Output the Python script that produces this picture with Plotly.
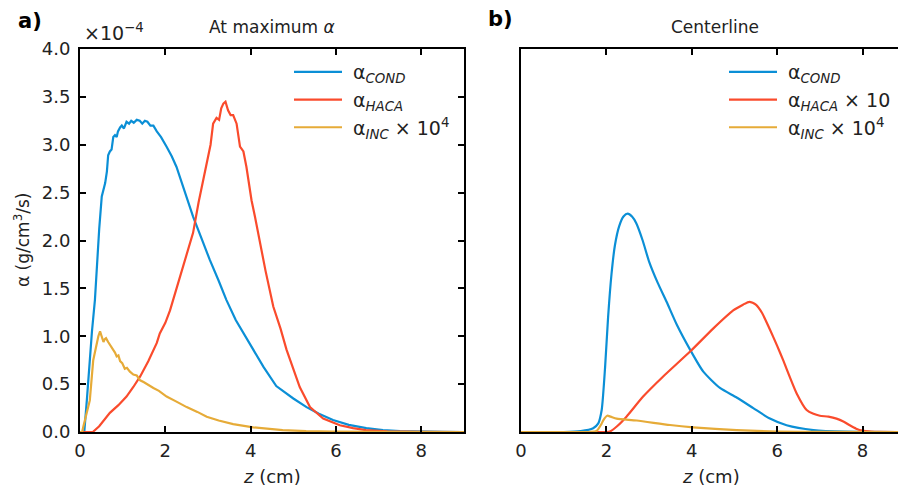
import plotly.graph_objects as go

# --- Panel a: profiles at the radial location of maximum alpha (units of 1e-4 g/cm^3/s)
z_cond_max = [0.0, 0.1, 0.16, 0.22, 0.28, 0.35, 0.39, 0.45, 0.51, 0.55, 0.59, 0.63, 0.66, 0.70,
              0.74, 0.78, 0.82, 0.86, 0.89, 0.94, 0.98, 1.03, 1.09, 1.15, 1.2, 1.26, 1.33, 1.4,
              1.46, 1.52, 1.58, 1.65, 1.72, 1.8, 1.9, 2.03, 2.15, 2.26, 2.45, 2.65, 2.85, 3.04,
              3.25, 3.43, 3.65, 3.98, 4.3, 4.6, 5.0, 5.31, 5.6, 5.93, 6.3, 6.71, 7.1, 7.5, 8.0,
              8.5, 9.0]
cond_max = [0, 0.0, 0.33, 0.75, 1.05, 1.38, 1.73, 2.12, 2.46, 2.52, 2.6, 2.72, 2.89, 2.93, 2.95,
            3.08, 3.1, 3.08, 3.14, 3.18, 3.2, 3.17, 3.24, 3.22, 3.25, 3.23, 3.26, 3.25, 3.22,
            3.25, 3.24, 3.2, 3.2, 3.14, 3.08, 2.98, 2.88, 2.77, 2.52, 2.25, 2.02, 1.80, 1.58,
            1.38, 1.17, 0.92, 0.68, 0.48, 0.35, 0.26, 0.19, 0.125, 0.075, 0.04, 0.02, 0.01,
            0.004, 0.001, 0.0]

z_haca_max = [0, 0.3, 0.45, 0.7, 0.9, 1.09, 1.25, 1.41, 1.6, 1.8, 1.87, 2.0, 2.11, 2.3, 2.5,
              2.65, 2.78, 2.89, 3.0, 3.06, 3.12, 3.2, 3.26, 3.31, 3.36, 3.41, 3.47, 3.53, 3.59,
              3.63, 3.67, 3.75, 3.83, 3.9, 4.02, 4.1, 4.22, 4.35, 4.53, 4.7, 4.84, 5.0, 5.15,
              5.39, 5.7, 6.09, 6.4, 6.7, 7.2, 8.0, 9.0]
haca_max = [0, 0, 0.06, 0.2, 0.28, 0.37, 0.47, 0.58, 0.74, 0.93, 1.03, 1.14, 1.27, 1.55, 1.87,
            2.08, 2.4, 2.63, 2.84, 3.0, 3.22, 3.28, 3.26, 3.38, 3.43, 3.45, 3.36, 3.31, 3.31,
            3.27, 3.22, 2.98, 2.93, 2.77, 2.42, 2.25, 1.97, 1.68, 1.31, 1.08, 0.86, 0.66, 0.47,
            0.26, 0.14, 0.07, 0.04, 0.02, 0.008, 0.002, 0]

z_inc_max = [0, 0.05, 0.08, 0.15, 0.23, 0.31, 0.39, 0.43, 0.47, 0.51, 0.55, 0.58, 0.61, 0.66,
             0.72, 0.78, 0.82, 0.86, 0.9, 0.94, 0.99, 1.05, 1.1, 1.17, 1.25, 1.33, 1.41, 1.5,
             1.6, 1.72, 1.85, 2.03, 2.25, 2.5, 2.75, 2.97, 3.25, 3.59, 4.06, 4.75, 5.3, 5.9,
             7.0, 9.0]
inc_max = [0, 0, 0.06, 0.18, 0.33, 0.75, 0.93, 1.0, 1.05, 1.0, 0.94, 0.97, 0.98, 0.94, 0.90,
           0.86, 0.83, 0.79, 0.80, 0.74, 0.72, 0.66, 0.67, 0.63, 0.60, 0.59, 0.54, 0.52, 0.49,
           0.46, 0.43, 0.37, 0.32, 0.26, 0.21, 0.16, 0.12, 0.083, 0.049, 0.02, 0.009, 0.003,
           0.001, 0]

# --- Panel b: profiles along the centerline (same units)
z_cond_cl = [0, 1.0, 1.4, 1.69, 1.81, 1.89, 1.97, 2.04, 2.12, 2.2, 2.3, 2.4, 2.5, 2.6, 2.7,
             2.85, 3.0, 3.2, 3.41, 3.65, 3.96, 4.27, 4.66, 5.05, 5.44, 5.83, 6.22, 6.85, 7.6,
             8.83]
cond_cl = [0, 0, 0.01, 0.04, 0.09, 0.23, 0.68, 1.2, 1.65, 1.95, 2.15, 2.25, 2.28, 2.25, 2.18,
           2.0, 1.78, 1.56, 1.36, 1.12, 0.86, 0.63, 0.46, 0.36, 0.25, 0.14, 0.07, 0.02, 0.003, 0]

z_haca_cl = [0, 2.0, 2.08, 2.25, 2.47, 2.86, 3.33, 3.96, 4.5, 4.97, 5.2, 5.35, 5.5, 5.65, 5.83,
             6.0, 6.14, 6.46, 6.69, 6.85, 7.0, 7.2, 7.39, 7.55, 7.7, 7.85, 8.0, 8.2, 8.4, 8.83]
haca_cl_x10 = [0, 0, 0.005, 0.06, 0.16, 0.37, 0.58, 0.84, 1.08, 1.27, 1.33, 1.36, 1.33, 1.24,
               1.07, 0.9, 0.75, 0.40, 0.23, 0.19, 0.17, 0.16, 0.14, 0.11, 0.07, 0.035, 0.014,
               0.005, 0.002, 0]

z_inc_cl = [0, 1.6, 1.77, 1.88, 1.93, 2.02, 2.1, 2.24, 2.71, 3.49, 4.03, 5.05, 6.0, 7.0, 8.83]
inc_cl = [0, 0, 0.01, 0.08, 0.125, 0.17, 0.16, 0.14, 0.12, 0.073, 0.049, 0.02, 0.005, 0.001, 0]

x_ticks = [0, 2, 4, 6, 8]
y_ticks = [0, 0.5, 1.0, 1.5, 2.0, 2.5, 3.0, 3.5, 4.0]

BLUE = "#0b8fd6"
RED = "#fa4b2c"
GOLD = "#e6ab38"
FONT = "DejaVu Sans"
TXT = "#222222"
W, H = 898, 492

# legend labels (leading no-break space widens the gap after the key line)
lab_cond = "\u00a0α<sub><i>COND</i></sub>"
lab_haca = "\u00a0α<sub><i>HACA</i></sub>"
lab_haca10 = "\u00a0α<sub><i>HACA</i></sub> × 10"
lab_inc = "\u00a0α<sub><i>INC</i></sub> × 10<sup>4</sup>"

fig = go.Figure()
panel_a = [(z_cond_max, cond_max, BLUE, lab_cond),
           (z_haca_max, haca_max, RED, lab_haca),
           (z_inc_max, inc_max, GOLD, lab_inc)]
for xs, ys, c, name in panel_a:
    fig.add_trace(go.Scatter(x=xs, y=ys, mode="lines", name=name,
                             line=dict(color=c, width=2.2), xaxis="x", yaxis="y",
                             legend="legend"))

panel_b = [(z_cond_cl, cond_cl, BLUE, lab_cond),
           (z_haca_cl, haca_cl_x10, RED, lab_haca10),
           (z_inc_cl, inc_cl, GOLD, lab_inc)]
for xs, ys, c, name in panel_b:
    fig.add_trace(go.Scatter(x=xs, y=ys, mode="lines", name=name,
                             line=dict(color=c, width=2.2, shape="spline", smoothing=0.6),
                             xaxis="x2", yaxis="y2", legend="legend2"))

y_dom = [60 / H, 443 / H]
tick_font = dict(family=FONT, size=18, color=TXT)
axis_common = dict(showline=True, linecolor="black", linewidth=2, showgrid=False,
                   zeroline=False, ticks="inside", ticklen=6, tickwidth=2,
                   tickcolor="black", tickfont=tick_font, automargin=False)

legend_common = dict(xanchor="left", yanchor="top", bgcolor="rgba(0,0,0,0)",
                     font=dict(family=FONT, size=19, color=TXT),
                     traceorder="normal", itemwidth=48)

fig.update_layout(
    width=W, height=H,
    margin=dict(l=0, r=0, t=0, b=0, autoexpand=False),
    plot_bgcolor="white", paper_bgcolor="white",
    font=dict(family=FONT, size=18, color=TXT),
    xaxis=dict(domain=[80 / W, 464 / W], range=[0, 9], tickvals=x_ticks,
               mirror="ticks", anchor="y", ticklabelstandoff=1, **axis_common),
    yaxis=dict(domain=y_dom, range=[0, 4.0], tickvals=y_ticks, tickformat=".1f",
               mirror="ticks", anchor="x", ticklabelstandoff=4, **axis_common),
    xaxis2=dict(domain=[521 / W, 1.0], range=[0, 8.83], tickvals=x_ticks,
                mirror="ticks", anchor="y2", ticklabelstandoff=1, **axis_common),
    yaxis2=dict(domain=y_dom, range=[0, 4.0], showline=True, linecolor="black",
                linewidth=2, showgrid=False, zeroline=False, ticks="",
                showticklabels=False, anchor="x2", automargin=False),
    legend=dict(x=289 / W, y=1 - 53 / H, **legend_common),
    legend2=dict(x=724 / W, y=1 - 53 / H, **legend_common),
)

annotations = [
    dict(text="<b>a)</b>", x=30 / W, y=1 - 21 / H, font=dict(size=21, color="black")),
    dict(text="<b>b)</b>", x=500 / W, y=1 - 19 / H, font=dict(size=21, color="black")),
    dict(text="At maximum <i>α</i>", x=272 / W, y=1 - 27 / H, font=dict(size=17)),
    dict(text="Centerline", x=715 / W, y=1 - 27 / H, font=dict(size=17)),
    dict(text="×10<sup>−4</sup>", x=82 / W, y=1 - 32 / H, xanchor="left",
         font=dict(size=19)),
    dict(text="α (g/cm<sup>3</sup>/s)", x=22 / W, y=1 - 240 / H, textangle=-90,
         font=dict(size=17)),
    dict(text="<i>z</i> (cm)", x=272 / W, y=1 - 476 / H, font=dict(size=18)),
    dict(text="<i>z</i> (cm)", x=711 / W, y=1 - 476 / H, font=dict(size=18)),
]
for a in annotations:
    a.setdefault("xanchor", "center")
    fig.add_annotation(xref="paper", yref="paper", showarrow=False, yanchor="middle", **a)

fig.write_html("out.html")
